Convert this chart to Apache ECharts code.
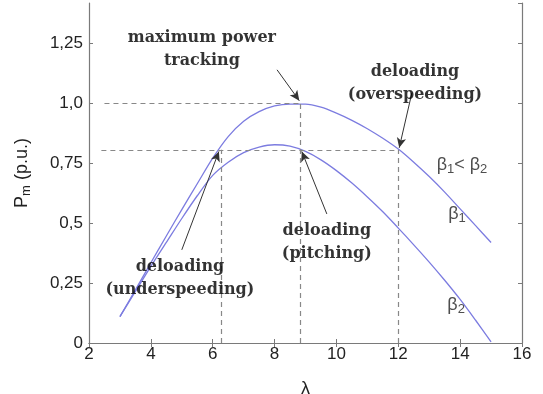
<!DOCTYPE html>
<html><head><meta charset="utf-8">
<script src="https://cdn.jsdelivr.net/npm/echarts@6/dist/echarts.min.js"></script>
<style>html,body{margin:0;padding:0;background:#fff}#c{width:543px;height:394px}</style>
</head><body><div id="c"></div>
<script>
// ---- data ----
const lambda = [3,3.5,4,4.5,5,5.5,6,6.5,7,7.5,8,8.5,9,9.5,10,10.5,11,11.5,12,12.5,13,13.5,14,14.5,15];
const beta1  = [0.11,0.222,0.335,0.447,0.557,0.665,0.772,0.862,0.926,0.966,0.99,0.998,0.998,0.985,0.96,0.93,0.895,0.855,0.81,0.755,0.695,0.63,0.56,0.49,0.42];
const beta2  = [0.11,0.215,0.32,0.42,0.52,0.615,0.70,0.755,0.795,0.818,0.828,0.822,0.80,0.765,0.72,0.668,0.61,0.548,0.48,0.41,0.338,0.262,0.182,0.095,0.005];
const xTicks = ['2','4','6','8','10','12','14','16'];
const yTicks = ['0','0,25','0,5','0,75','1,0','1,25'];
// operating points: [lambda, P]
const pMax = [8.84, 1.0];
const pLevel = 0.807;
const pUnder = 6.27, pOver = 12.0;
// annotation texts (data coords)
const notes = [
  {xy:[5.65,1.228], text:'maximum power\ntracking'},
  {xy:[12.54,1.085], text:'deloading\n(overspeeding)'},
  {xy:[9.69,0.42],  text:'deloading\n(pitching)'},
  {xy:[4.94,0.272], text:'deloading\n(underspeeding)'}
];
const betaNotes = [
  {xy:[14.06,0.74], text:'{b|β}{s|1}{b|< β}{s|2}'},
  {xy:[13.9,0.535],  text:'{b|β}{s|1}'},
  {xy:[13.87,0.155], text:'{b|β}{s|2}'}
];
const arrows = [
  [[8.08,1.141],[8.8,1.012]],
  [[12.44,1.045],[12.03,0.815]],
  [[5.0,0.389],[6.2,0.80]],
  [[9.69,0.539],[8.88,0.80]]
];

const chart = echarts.init(document.getElementById('c'), null, {renderer:'canvas'});
const axisColor = '#7a7a7a';
const lblFont = 'Liberation Sans';
const sub = {
  b:{fontFamily:lblFont,fontSize:18,color:'#222',lineHeight:20,verticalAlign:'top'},
  s:{fontFamily:lblFont,fontSize:13,color:'#222',lineHeight:14,verticalAlign:'bottom'}
};
const curve = (ys)=>lambda.map((x,i)=>[x,ys[i]]);
chart.setOption({
  animation:false,
  grid:{left:89,right:21,top:3,bottom:51,containLabel:false,outerBoundsMode:'none'},
  xAxis:[{
    type:'value',min:2,max:16,interval:2,
    axisLine:{lineStyle:{color:axisColor,width:1.2}},
    axisTick:{inside:true,length:4,lineStyle:{color:axisColor}},
    splitLine:{show:false},
    axisLabel:{margin:3,color:'#222',fontFamily:lblFont,fontSize:17,
      formatter:(v)=>xTicks[Math.round((v-2)/2)] ?? ''},
    name:'λ',nameLocation:'middle',nameGap:37,
    nameTextStyle:{color:'#222',fontFamily:lblFont,fontSize:18}
  },{
    type:'value',position:'top',min:2,max:16,interval:2,
    axisLine:{lineStyle:{color:axisColor,width:1.2}},
    axisTick:{inside:true,length:4,lineStyle:{color:axisColor}},
    axisLabel:{show:false},splitLine:{show:false}
  }],
  yAxis:[{
    type:'value',min:0,max:1.42,interval:0.25,
    axisLine:{show:true,lineStyle:{color:axisColor,width:1.2}},
    axisTick:{show:true,inside:true,length:4,lineStyle:{color:axisColor}},
    splitLine:{show:false},
    axisLabel:{margin:6,color:'#222',fontFamily:lblFont,fontSize:17,showMaxLabel:false,
      formatter:(v)=>{const i=Math.round(v/0.25);return Math.abs(v-i*0.25)<1e-6?(yTicks[i]??''):'';}},
    name:'{b|P}{s|m}{b| (p.u.)}',nameLocation:'middle',nameGap:56,nameRotate:90,
    nameTextStyle:{rich:sub}
  },{
    type:'value',position:'right',min:0,max:1.42,interval:0.25,
    axisLine:{show:true,lineStyle:{color:axisColor,width:1.2}},
    axisTick:{show:true,inside:true,length:4,lineStyle:{color:axisColor}},
    axisLabel:{show:false},splitLine:{show:false}
  }],
  series:[
    {type:'line',name:'beta1',data:curve(beta1),smooth:0.3,showSymbol:false,
      lineStyle:{color:'#7c7ce0',width:1.3},z:3},
    {type:'line',name:'beta2',data:curve(beta2),smooth:0.3,showSymbol:false,
      lineStyle:{color:'#7c7ce0',width:1.3},z:3},
    {type:'line',name:'guides',data:[],
      markLine:{silent:true,symbol:['none','none'],label:{show:false},
        lineStyle:{type:[5,4],color:'#888',width:1.2},
        data:[
          [{coord:[2.5,pMax[1]]},{coord:pMax}],
          [{coord:[2.4,pLevel]},{coord:[pOver,pLevel]}],
          [{coord:[pUnder,0]},{coord:[pUnder,pLevel]}],
          [{coord:[pMax[0],0]},{coord:pMax}],
          [{coord:[pOver,0]},{coord:[pOver,pLevel]}]
        ]},z:2},
    {type:'line',name:'arrows',data:[],
      markLine:{silent:true,symbol:['none','arrow'],symbolSize:[7,10],label:{show:false},
        lineStyle:{type:'solid',color:'#333',width:1},
        data:arrows.map(a=>[{coord:a[0]},{coord:a[1]}])},z:4},
    {type:'scatter',name:'notes',symbolSize:0,silent:true,
      data:notes.map(n=>({value:n.xy,text:n.text})),
      label:{show:true,position:'inside',formatter:(p)=>p.data.text,
        fontFamily:'DejaVu Serif',fontWeight:'bold',fontSize:16,lineHeight:23,color:'#000',align:'center'},z:5},
    {type:'scatter',name:'betas',symbolSize:0,silent:true,
      data:betaNotes.map(n=>({value:n.xy,text:n.text})),
      label:{show:true,position:'inside',formatter:(p)=>p.data.text,rich:sub},z:5}
  ]
});
</script></body></html>
